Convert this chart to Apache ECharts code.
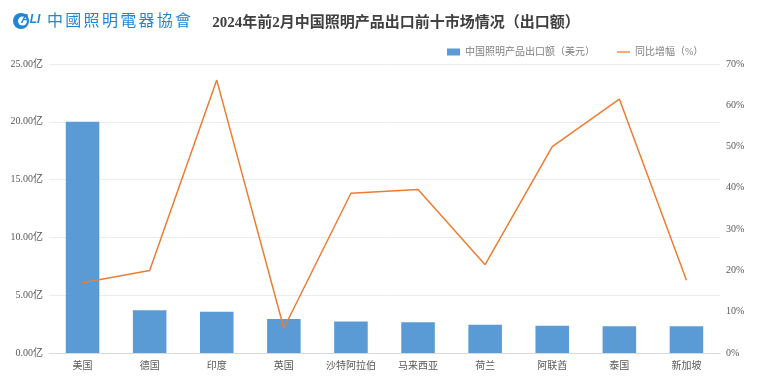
<!DOCTYPE html>
<html><head><meta charset="utf-8">
<script src="https://cdn.jsdelivr.net/npm/echarts@6/dist/echarts.min.js"></script>
<style>html,body{margin:0;padding:0;background:#fff;}#c{width:759px;height:391px;}</style>
</head><body><div id="c"></div>
<script>
const categories = ['美国','德国','印度','英国','沙特阿拉伯','马来西亚','荷兰','阿联酋','泰国','新加坡'];
const exportValues = [20.0, 3.70, 3.56, 2.95, 2.72, 2.65, 2.45, 2.36, 2.31, 2.31];
const growthValues = [17.0, 20.0, 66.1, 6.0, 38.7, 39.6, 21.4, 50.0, 61.5, 17.6];
const barName = '中国照明产品出口额（美元）';
const lineName = '同比增幅（%）';
const titleText = '2024年前2月中国照明产品出口前十市场情况（出口额）';
const logoText = '中國照明電器協會';

const serif = '"Liberation Serif","DejaVu Serif","Noto Sans CJK SC",serif';
const logoChars = logoText.split('').map((ch, i) => ({
  type: 'text', left: 47 + i * 18.3, top: 12,
  style: {text: ch, fontSize: 16, fill: '#1f86d3', fontFamily: '"Noto Sans CJK TC"', fontWeight: 'normal'}
}));
const chart = echarts.init(document.getElementById('c'));
chart.setOption({
  backgroundColor: '#fff',
  animation: false,
  title: {
    text: titleText, left: 391, top: 11, textAlign: 'center',
    textStyle: {fontFamily: '"Liberation Serif","Noto Sans CJK SC",serif', fontSize: 15, fontWeight: 'bold', color: '#404040'}
  },
  graphic: [
    {type: 'circle', shape: {cx: 21, cy: 21, r: 8}, style: {fill: '#1f86d3'}},
    {type: 'circle', shape: {cx: 22.5, cy: 21, r: 4.5}, style: {fill: '#fff'}},
    {type: 'text', left: 21, top: 14, style: {text: 'ALI', fontSize: 12, fontWeight: 'bold', fontStyle: 'italic', fill: '#1f86d3', fontFamily: 'Liberation Sans'}}
  ].concat(logoChars),
  legend: {
    top: 42, left: 442, itemGap: 22, itemWidth: 13, itemHeight: 7,
    textStyle: {fontSize: 10, color: '#7f7f7f', fontFamily: serif},
    data: [{name: barName, icon: 'rect'}, {name: lineName, icon: 'path://M0,0H20V2H0Z'}]
  },
  grid: {left: 49, right: 39, top: 64, bottom: 38},
  xAxis: {
    type: 'category', data: categories,
    axisLine: {lineStyle: {color: '#d9d9d9'}},
    axisTick: {show: false},
    axisLabel: {color: '#595959', fontSize: 10, margin: 8, fontFamily: serif}
  },
  yAxis: [
    {type: 'value', min: 0, max: 25, interval: 5,
     axisLabel: {formatter: v => v.toFixed(2) + '亿', color: '#595959', fontSize: 10, margin: 6, fontFamily: serif},
     splitLine: {lineStyle: {color: '#ececec'}}, axisLine: {show: false}, axisTick: {show: false}},
    {type: 'value', min: 0, max: 70, interval: 10,
     axisLabel: {formatter: v => v + '%', color: '#595959', fontSize: 10, margin: 6, fontFamily: serif},
     splitLine: {show: false}, axisLine: {show: false}, axisTick: {show: false}}
  ],
  series: [
    {name: barName, type: 'bar', data: exportValues, barWidth: '50%', itemStyle: {color: '#5b9bd5'}},
    {name: lineName, type: 'line', yAxisIndex: 1, data: growthValues, symbol: 'none',
     lineStyle: {color: '#ed7d31', width: 1.5}, itemStyle: {color: '#ed7d31'}}
  ]
});
</script></body></html>
